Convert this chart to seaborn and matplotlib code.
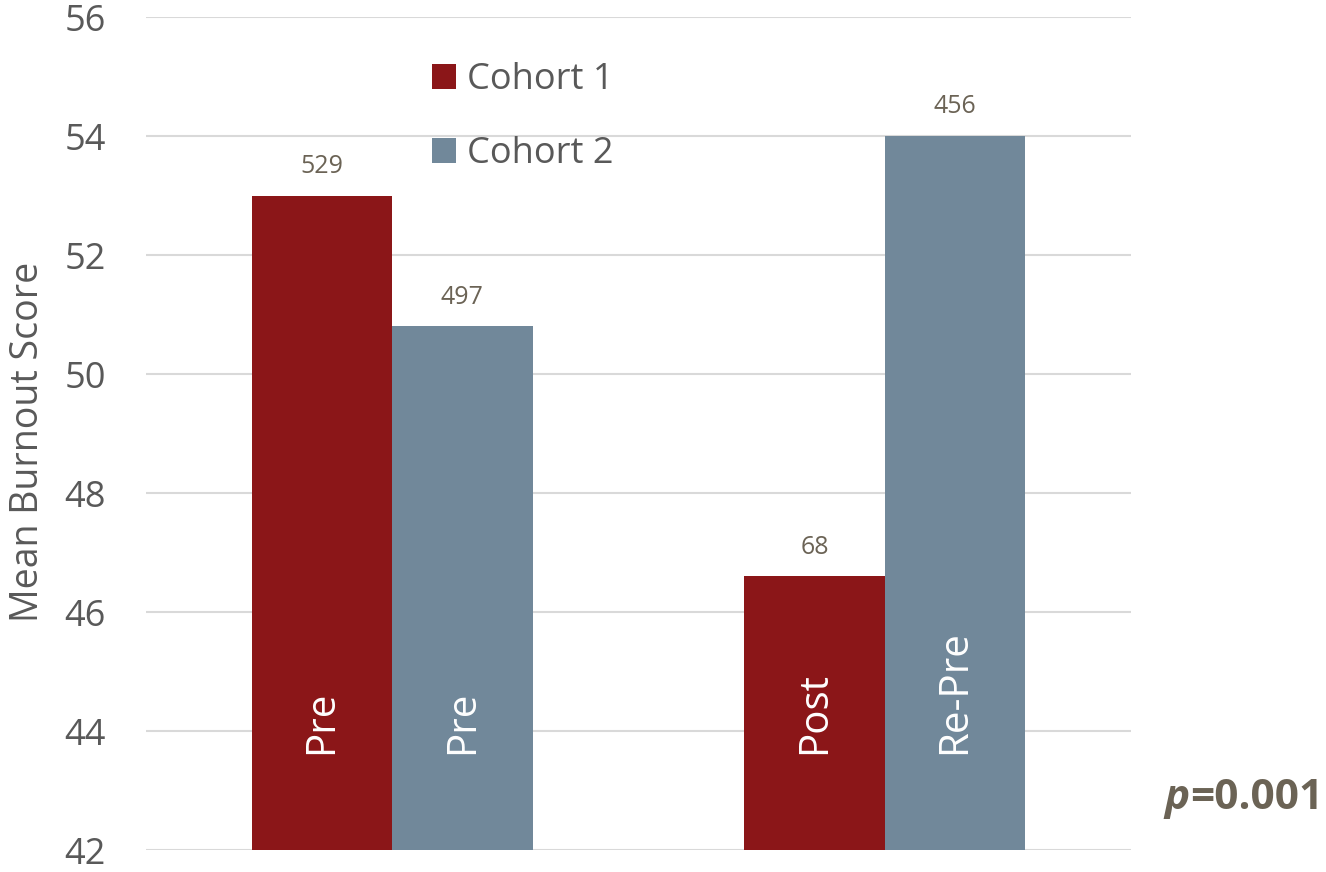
import matplotlib
matplotlib.use("Agg")
import matplotlib.pyplot as plt
import seaborn as sns
import pandas as pd

# Mean burnout scores by survey wave for each cohort
timepoints = ["Wave 1", "Wave 2"]
cohorts = ["Cohort 1", "Cohort 2"]
cohort1_scores = [53.0, 46.6]
cohort2_scores = [50.8, 54.0]
cohort1_n = [529, 68]
cohort2_n = [497, 456]
cohort1_phase = ["Pre", "Post"]
cohort2_phase = ["Pre", "Re-Pre"]
y_ticks = [42, 44, 46, 48, 50, 52, 54, 56]
p_value_text = "=0.001"

df = pd.DataFrame({
    "timepoint": timepoints * 2,
    "cohort": [cohorts[0]] * 2 + [cohorts[1]] * 2,
    "score": cohort1_scores + cohort2_scores,
    "n": cohort1_n + cohort2_n,
    "phase": cohort1_phase + cohort2_phase,
})

sns.set_theme(style="white")
plt.rcParams["font.family"] = ["Open Sans", "DejaVu Sans"]

RED = "#8B1618"
SLATE = "#71889A"
TEXT = "#595959"
NOTE = "#6B6355"

fig = plt.figure(figsize=(13.26, 8.72), dpi=100)
ax = fig.add_axes([146 / 1326, 1 - 850 / 872, 985 / 1326, 833 / 872])

sns.barplot(data=df, x="timepoint", y="score", hue="cohort",
            palette=[RED, SLATE], width=0.57, saturation=1,
            ax=ax, zorder=3, linewidth=0)

ax.set_ylim(42, 56)
ax.set_xlim(-0.5, 1.5)
ax.set_yticks(y_ticks)
ax.set_yticklabels([str(t) for t in y_ticks])
ax.tick_params(axis="y", length=0, pad=29, labelsize=26, labelcolor=TEXT)
ax.tick_params(axis="x", length=0, labelbottom=False)
ax.set_xlabel("")
ax.set_ylabel("Mean Burnout Score", fontsize=27, color=TEXT)
ax.yaxis.set_label_coords(-0.1, 0.49)
ax.grid(axis="y", color="#D9D9D9", linewidth=1.5, zorder=0)
ax.set_axisbelow(True)
for s in ax.spines.values():
    s.set_visible(False)

# Sample sizes above bars and phase names inside bars
for container, cohort in zip(ax.containers, cohorts):
    sub = df[df["cohort"] == cohort].reset_index(drop=True)
    for bar, (_, row) in zip(container, sub.iterrows()):
        cx = bar.get_x() + bar.get_width() / 2
        ax.annotate(f"{row['n']}", xy=(cx, bar.get_height()),
                    xytext=(0, 21), textcoords="offset points",
                    ha="center", va="center", fontsize=18, color=NOTE,
                    zorder=4)
        ax.text(cx, 43.62, row["phase"], rotation=90, ha="center",
                va="bottom", fontsize=29, color="white", zorder=4)

leg = ax.legend(loc="upper left", bbox_to_anchor=(432 / 1326, 1 - 62 / 872),
                bbox_transform=fig.transFigure, frameon=False,
                fontsize=26, handlelength=0.67, handleheight=0.67,
                handletextpad=0.3, labelspacing=1.05, borderpad=0,
                borderaxespad=0, title=None)
for t in leg.get_texts():
    t.set_color(TEXT)

# Significance note in the lower right corner
num = fig.text(1323 / 1326, 1 - 798 / 872, p_value_text, ha="right",
               va="center", fontsize=30.5, fontweight="bold", color=NOTE)
ax.annotate("p", xy=(0, 0), xycoords=num, ha="right", va="bottom",
            fontsize=30.5, fontweight="bold", fontstyle="italic", color=NOTE)

fig.savefig("out.png", dpi=100)
